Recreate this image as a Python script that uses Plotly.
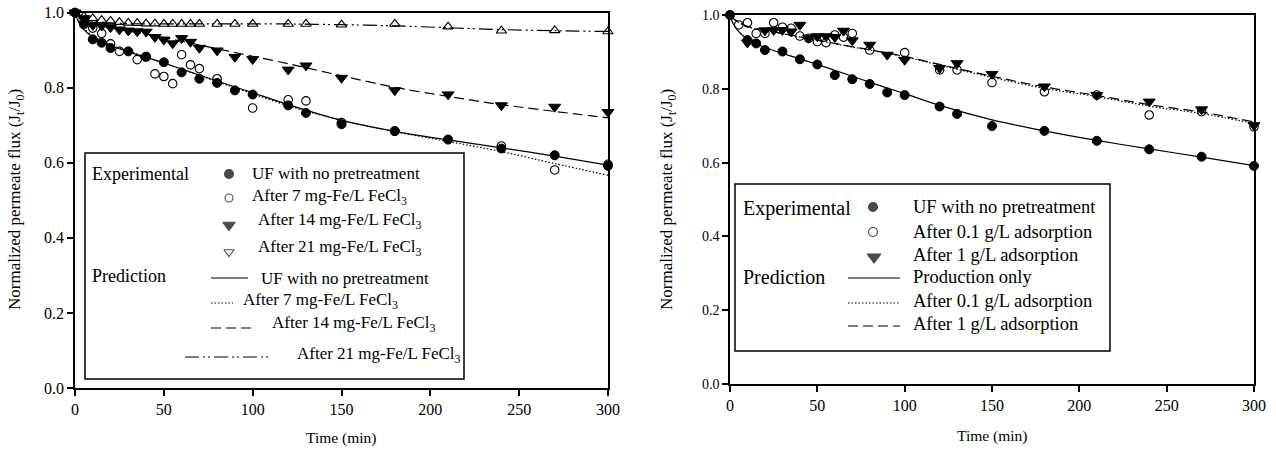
import plotly.graph_objects as go

PAGE_W, PAGE_H = 1276, 454
OFF = 0
FW, FH = PAGE_W - 2 * OFF, PAGE_H - 2 * OFF
SERIF = "Liberation Serif, Times New Roman, serif"

# ---------------- Left panel data (FeCl3 pretreatment) ----------------
t_uf_left = [0, 5, 10, 15, 20, 30, 40, 50, 60, 70, 80, 90, 100, 120, 130, 150, 180, 210, 240, 270, 300]
uf_left = [1.0, 0.969, 0.929, 0.920, 0.906, 0.897, 0.883, 0.868, 0.841, 0.824, 0.813, 0.793, 0.782,
           0.753, 0.733, 0.703, 0.685, 0.662, 0.638, 0.620, 0.592]

t_fe7 = [0, 5, 10, 15, 20, 25, 35, 40, 45, 50, 55, 60, 65, 70, 80, 100, 120, 130, 150, 180, 240, 270, 300]
fe7 = [1.0, 0.975, 0.959, 0.945, 0.917, 0.897, 0.875, 0.882, 0.837, 0.830, 0.811, 0.888, 0.861, 0.851,
       0.824, 0.746, 0.768, 0.765, 0.707, 0.684, 0.645, 0.581, 0.596]

t_fe14 = [0, 5, 10, 15, 20, 25, 30, 35, 40, 45, 50, 55, 60, 65, 70, 80, 90, 100, 120, 130, 150, 180, 210, 240, 270, 300]
fe14 = [1.0, 0.985, 0.967, 0.965, 0.961, 0.955, 0.952, 0.950, 0.949, 0.935, 0.928, 0.918, 0.932, 0.922,
        0.906, 0.899, 0.882, 0.876, 0.848, 0.859, 0.826, 0.793, 0.782, 0.753, 0.749, 0.735]

t_fe21 = [0, 5, 10, 15, 20, 25, 30, 35, 40, 45, 50, 55, 60, 65, 70, 80, 90, 100, 120, 130, 150, 180, 210, 240, 270, 300]
fe21 = [1.0, 0.990, 0.985, 0.980, 0.978, 0.975, 0.973, 0.972, 0.971, 0.971, 0.970, 0.970, 0.970, 0.970,
        0.970, 0.970, 0.970, 0.970, 0.970, 0.970, 0.968, 0.970, 0.963, 0.952, 0.953, 0.950]

t_pred = [0, 2, 5, 10, 15, 20, 30, 40, 50, 60, 70, 80, 90, 100, 120, 150, 180, 210, 240, 270, 300]
pred_uf_left = [1.0, 0.975, 0.955, 0.935, 0.922, 0.912, 0.896, 0.881, 0.866, 0.850, 0.834, 0.818, 0.802,
                0.787, 0.755, 0.713, 0.684, 0.661, 0.640, 0.618, 0.594]
pred_fe7 = [1.0, 0.977, 0.958, 0.938, 0.925, 0.914, 0.898, 0.882, 0.866, 0.849, 0.833, 0.816, 0.800,
            0.784, 0.752, 0.713, 0.683, 0.657, 0.630, 0.598, 0.567]
pred_fe14 = [1.0, 0.990, 0.982, 0.972, 0.965, 0.960, 0.951, 0.943, 0.934, 0.924, 0.914, 0.904, 0.894,
             0.884, 0.864, 0.832, 0.801, 0.777, 0.755, 0.737, 0.720]
pred_fe21 = [1.0, 0.993, 0.985, 0.978, 0.975, 0.973, 0.971, 0.970, 0.970, 0.970, 0.970, 0.970, 0.970,
             0.970, 0.970, 0.968, 0.965, 0.960, 0.955, 0.952, 0.950]

# ---------------- Right panel data (adsorption pretreatment) ----------------
t_uf_right = [0, 10, 15, 20, 30, 40, 50, 60, 70, 80, 90, 100, 120, 130, 150, 180, 210, 240, 270, 300]
uf_right = [1.0, 0.932, 0.923, 0.905, 0.901, 0.880, 0.866, 0.837, 0.826, 0.813, 0.790, 0.783, 0.752,
            0.732, 0.699, 0.686, 0.659, 0.636, 0.616, 0.591]

t_ads01 = [0, 5, 10, 15, 20, 25, 30, 35, 40, 45, 50, 55, 60, 65, 70, 80, 100, 120, 130, 150, 180, 210, 240, 270, 300]
ads01 = [1.0, 0.973, 0.979, 0.950, 0.950, 0.979, 0.967, 0.964, 0.943, 0.937, 0.928, 0.925, 0.946, 0.940,
         0.950, 0.905, 0.898, 0.851, 0.851, 0.817, 0.792, 0.783, 0.729, 0.738, 0.697]

t_ads1 = [10, 20, 25, 30, 35, 40, 45, 50, 55, 60, 65, 70, 80, 90, 100, 120, 130, 150, 180, 210, 240, 270, 300]
ads1 = [0.925, 0.958, 0.959, 0.959, 0.955, 0.973, 0.938, 0.942, 0.942, 0.940, 0.957, 0.931, 0.919, 0.892,
        0.878, 0.856, 0.869, 0.840, 0.806, 0.783, 0.765, 0.744, 0.701]

pred_uf_right = [1.0, 0.975, 0.955, 0.935, 0.922, 0.912, 0.896, 0.881, 0.866, 0.850, 0.834, 0.818, 0.802,
                 0.787, 0.755, 0.716, 0.686, 0.660, 0.637, 0.615, 0.592]
pred_ads01 = [1.0, 0.990, 0.980, 0.968, 0.963, 0.958, 0.949, 0.940, 0.931, 0.922, 0.913, 0.905, 0.896,
              0.887, 0.864, 0.831, 0.801, 0.779, 0.753, 0.733, 0.706]
pred_ads1 = [1.0, 0.990, 0.981, 0.969, 0.964, 0.959, 0.950, 0.941, 0.932, 0.923, 0.914, 0.906, 0.897,
             0.888, 0.866, 0.834, 0.805, 0.782, 0.757, 0.737, 0.710]

x_ticks = [0, 50, 100, 150, 200, 250, 300]
y_ticks = [0.0, 0.2, 0.4, 0.6, 0.8, 1.0]
y_ticktext = ["0.0", "0.2", "0.4", "0.6", "0.8", "1.0"]

# ---------------- styles ----------------
DOT = "1.5px,2px"
DASH = "10px,5px"
DASHDOTDOT = "14px,4px,2px,3px,2px,4px"

MK_FILLED = dict(symbol="circle", size=9, color="black", line=dict(color="black", width=1))
MK_OPEN = dict(symbol="circle-open", size=8.5, color="black", line=dict(color="black", width=1.1))
MK_TRI = dict(symbol="triangle-down", size=10.5, color="black", line=dict(color="black", width=1))
MK_TRI_OPEN = dict(symbol="triangle-up-open", size=9, color="black", line=dict(color="black", width=1.1))

fig = go.Figure()


def line(x, y, dash, xa, ya):
    fig.add_trace(go.Scatter(x=x, y=y, mode="lines",
                             line=dict(color="black", width=1.2, dash=dash, shape="spline", smoothing=0.8),
                             xaxis=xa, yaxis=ya, showlegend=False, hoverinfo="skip"))


def pts(x, y, mk, xa, ya):
    fig.add_trace(go.Scatter(x=x, y=y, mode="markers", marker=mk, xaxis=xa, yaxis=ya,
                             showlegend=False, cliponaxis=False))


# left panel
line(t_pred, pred_uf_left, "solid", "x", "y")
line(t_pred, pred_fe7, DOT, "x", "y")
line(t_pred, pred_fe14, DASH, "x", "y")
line(t_pred, pred_fe21, DASHDOTDOT, "x", "y")
pts(t_fe21, fe21, MK_TRI_OPEN, "x", "y")
pts(t_fe14, fe14, MK_TRI, "x", "y")
pts(t_fe7, fe7, MK_OPEN, "x", "y")
pts(t_uf_left, uf_left, MK_FILLED, "x", "y")

# right panel
line(t_pred, pred_uf_right, "solid", "x2", "y2")
line(t_pred, pred_ads01, DOT, "x2", "y2")
line(t_pred, pred_ads1, DASH, "x2", "y2")
pts(t_ads1, ads1, MK_TRI, "x2", "y2")
pts(t_ads01, ads01, MK_OPEN, "x2", "y2")
pts(t_uf_right, uf_right, MK_FILLED, "x2", "y2")


def px(x):
    return (x - OFF) / FW


def py(y):
    return 1 - (y - OFF) / FH


axis_common = dict(showgrid=False, zeroline=False, showline=True, linecolor="black", linewidth=1.5,
                   mirror=True, ticks="outside", ticklen=6, tickwidth=1.5, tickcolor="black",
                   automargin=False, ticklabeloverflow="allow")

fig.update_layout(
    template="none",
    width=FW, height=FH, autosize=False,
    margin=dict(l=0, r=0, t=0, b=0, pad=0),
    paper_bgcolor="white", plot_bgcolor="rgba(0,0,0,0)",
    font=dict(family=SERIF, color="black"),
    xaxis=dict(domain=[px(75), px(608)], range=[0, 300], tickvals=x_ticks, anchor="y",
               tickfont=dict(family=SERIF, size=16, color="black"), **axis_common),
    yaxis=dict(domain=[py(388), py(12.7)], range=[0, 1.0], tickvals=y_ticks, ticktext=y_ticktext, anchor="x",
               tickfont=dict(family=SERIF, size=16, color="black"), **axis_common),
    xaxis2=dict(domain=[px(730), px(1254)], range=[0, 300], tickvals=x_ticks, anchor="y2",
                tickfont=dict(family=SERIF, size=16, color="black"), **axis_common),
    yaxis2=dict(domain=[py(384), py(15)], range=[0, 1.0], tickvals=y_ticks, ticktext=y_ticktext, anchor="x2",
                tickfont=dict(family=SERIF, size=14, color="black"), **axis_common),
    # full-figure overlay axis measured in page pixels (for legend keys and labels)
    xaxis3=dict(domain=[0, 1], range=[OFF, OFF + FW], visible=False, anchor="y3", fixedrange=True,
                automargin=False),
    yaxis3=dict(domain=[0, 1], range=[OFF + FH, OFF], visible=False, anchor="x3", fixedrange=True,
                automargin=False),
)

annotations = []
shapes = []


def text(x, y, s, size, xanchor="left", angle=0):
    annotations.append(dict(x=x, y=y, xref="x3", yref="y3", text=s, showarrow=False,
                            xanchor=xanchor, yanchor="middle", textangle=angle,
                            font=dict(family=SERIF, size=size, color="black")))


def hline(x0, x1, y, dash):
    shapes.append(dict(type="line", xref="x3", yref="y3", x0=x0, x1=x1, y0=y, y1=y,
                       line=dict(color="black", width=1.2, dash=dash)))


def box(x0, y0, x1, y1):
    shapes.append(dict(type="rect", xref="x3", yref="y3", x0=x0, x1=x1, y0=y0, y1=y1,
                       line=dict(color="black", width=1.5), fillcolor="rgba(0,0,0,0)"))


# axis titles
yt = "Normalized permeate flux (J<sub>t</sub>/J<sub>0</sub>)"
text(16, 200, yt, 17, xanchor="center", angle=-90)
text(668, 200, yt, 17, xanchor="center", angle=-90)
text(341, 438, "Time (min)", 15.5, xanchor="center")
text(992, 436, "Time (min)", 15.5, xanchor="center")

# ---- left legend ----
box(85, 153, 464, 379)
LS = 17
text(90, 174, "Experimental", 18)
text(90, 276, "Prediction", 18)
text(250, 173, "UF with no pretreatment", LS)
text(250, 197, "After 7 mg-Fe/L FeCl<sub>3</sub>", LS)
text(256, 221, "After 14 mg-Fe/L FeCl<sub>3</sub>", LS)
text(256, 248, "After 21 mg-Fe/L FeCl<sub>3</sub>", LS)
text(259, 278, "UF with no pretreatment", LS)
text(241, 301, "After 7 mg-Fe/L FeCl<sub>3</sub>", LS)
text(270, 324, "After 14 mg-Fe/L FeCl<sub>3</sub>", LS)
text(295, 355, "After 21 mg-Fe/L FeCl<sub>3</sub>", LS)
hline(211, 248, 278, "solid")
hline(211, 233, 303, DOT)
hline(211, 253, 328, DASH)
hline(185, 269, 357, DASHDOTDOT)

# ---- right legend ----
box(735, 184, 1110, 351)
RS = 18.5
text(741, 208, "Experimental", 20)
text(741, 277, "Prediction", 20)
text(911, 207, "UF with no pretreatment", RS)
text(911, 232, "After 0.1 g/L adsorption", RS)
text(911, 255, "After 1 g/L adsorption", RS)
text(911, 277, "Production only", RS)
text(911, 301, "After 0.1 g/L adsorption", RS)
text(911, 324, "After 1 g/L adsorption", RS)
hline(848, 900, 278, "solid")
hline(848, 900, 303, DOT)
hline(848, 900, 326, DASH)

# legend keys
leg_sym_x = [229, 229, 229, 229, 873, 873, 874]
leg_sym_y = [174, 198, 225, 252, 207, 232, 257]
leg_sym = ["circle", "circle-open", "triangle-down", "triangle-down-open", "circle", "circle-open", "triangle-down"]
leg_size = [9, 8, 11, 9, 9, 9, 12]
fig.add_trace(go.Scatter(x=leg_sym_x, y=leg_sym_y, mode="markers", xaxis="x3", yaxis="y3",
                         marker=dict(symbol=leg_sym, size=leg_size, color="black",
                                     line=dict(color="black", width=1.1)),
                         showlegend=False, hoverinfo="skip", cliponaxis=False))

fig.update_layout(annotations=annotations, shapes=shapes, showlegend=False)
fig.write_html("out.html", config={"displayModeBar": False},
               post_script="document.body.style.margin='0px';")
